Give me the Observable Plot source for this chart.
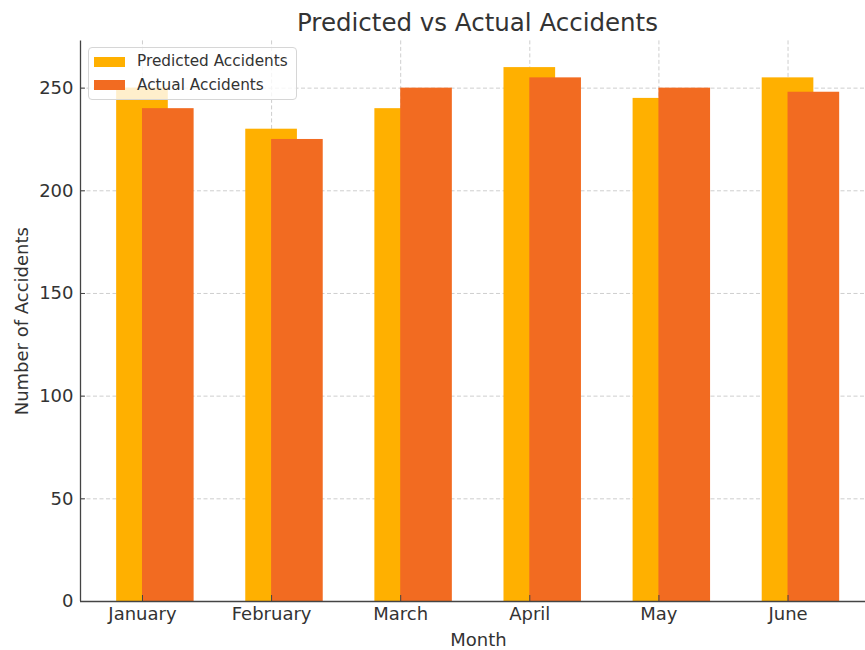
<!DOCTYPE html>
<html>
<head>
<meta charset="utf-8">
<script src="https://cdn.jsdelivr.net/npm/d3@7"></script>
<script src="https://cdn.jsdelivr.net/npm/@observablehq/plot@0.6"></script>
<style>
  body { margin: 0; background: #fff; font-family: "DejaVu Sans", sans-serif; }
  #wrap { position: relative; width: 865px; height: 650px; overflow: hidden; background: #fff; }
  #title { position: absolute; left: 0; top: 11px; width: 955px; text-align: center; font-size: 24.5px; line-height: 1; color: #333; white-space: nowrap; z-index: 2; }
  #chart { position: absolute; left: 0; top: 30px; z-index: 1; }
  #legend { position: absolute; left: 88px; top: 47px; width: 209px; height: 53px; box-sizing: border-box; background: rgba(255,255,255,0.8); border: 1px solid #d6d6d6; border-radius: 4px; z-index: 3; }
  .sw { position: absolute; width: 31px; height: 10.5px; z-index: 4; }
  .lt { position: absolute; font-size: 15.3px; line-height: 1; color: #333; white-space: nowrap; z-index: 4; }
</style>
</head>
<body>
<div id="wrap">
  <div id="title">Predicted vs Actual Accidents</div>
  <div id="chart"></div>
  <div id="legend"></div>
</div>
<script>
const months = ["January", "February", "March", "April", "May", "June"];
const predicted = [250, 230, 240, 260, 245, 255];
const actual = [240, 225, 250, 255, 250, 248];
const yTicks = [0, 50, 100, 150, 200, 250];
const seriesNames = ["Predicted Accidents", "Actual Accidents"];
const colors = ["#FFB000", "#F26B21"];

const rows = months.map((m, i) => ({i, month: m, predicted: predicted[i], actual: actual[i]}));
const idx = months.map((m, i) => i);
const barW = 0.4;

const gridStyle = {stroke: "#c8c8c8", strokeWidth: 0.9, strokeDasharray: "4,2.5"};
const ink = "#444";
const fs = 18;

const chart = Plot.plot({
  width: 865,
  height: 620,
  marginTop: 10.4,
  marginBottom: 49,
  marginLeft: 80,
  marginRight: 0,
  style: {fontFamily: "DejaVu Sans, sans-serif", fontSize: fs + "px", color: "#333", background: "transparent", overflow: "visible"},
  x: {type: "linear", domain: [-0.48, 5.6], axis: null},
  y: {domain: [0, 273], axis: null},
  marks: [
    Plot.ruleY(yTicks.filter(d => d > 0), gridStyle),
    Plot.ruleX(idx, {x: d => d, ...gridStyle}),
    Plot.rect(rows, {x1: d => d.i - barW / 2, x2: d => d.i + barW / 2, y1: 0, y2: "predicted", fill: colors[0]}),
    Plot.rect(rows, {x1: d => d.i, x2: d => d.i + barW, y1: 0, y2: "actual", fill: colors[1]}),
    Plot.axisY(yTicks, {tickSize: -5, tickPadding: 12, fontSize: fs, stroke: ink, fill: "#333", label: null}),
    Plot.axisX(idx, {tickSize: -6, tickPadding: 12, fontSize: fs, stroke: ink, fill: "#333", tickFormat: i => months[i], label: null}),
    Plot.ruleY([0], {stroke: ink, strokeWidth: 1.3}),
    Plot.ruleX([-0.48], {stroke: ink, strokeWidth: 1.3}),
    Plot.text(["Number of Accidents"], {frameAnchor: "left", textAnchor: "middle", rotate: -90, dx: -58, fontSize: fs, fill: "#333", text: d => d}),
    Plot.text(["Month"], {frameAnchor: "bottom", lineAnchor: "bottom", dy: 44, dx: 5.5, fontSize: fs, fill: "#333", text: d => d})
  ]
});
document.getElementById("chart").appendChild(chart);

const wrap = document.getElementById("wrap");
seriesNames.forEach((name, k) => {
  const sw = document.createElement("div");
  sw.className = "sw";
  sw.style.left = "94px";
  sw.style.top = (56.5 + k * 23) + "px";
  sw.style.background = colors[k];
  wrap.appendChild(sw);
  const t = document.createElement("div");
  t.className = "lt";
  t.style.left = "137px";
  t.style.top = (54.4 + k * 23.4) + "px";
  t.textContent = name;
  wrap.appendChild(t);
});
</script>
</body>
</html>
